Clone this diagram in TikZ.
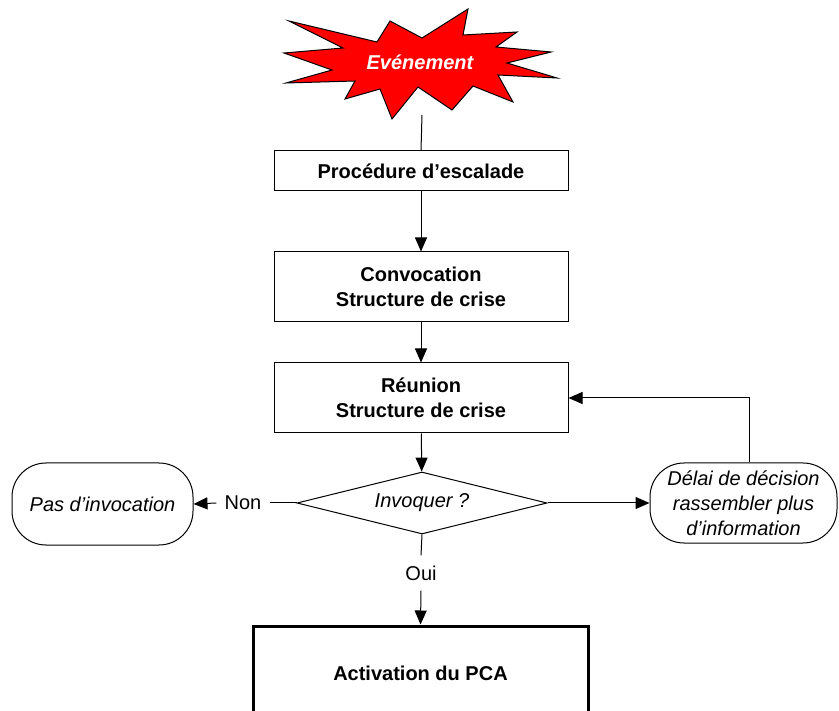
\documentclass[tikz,border=0pt]{standalone}
\usepackage{fontspec}
\setmainfont{Liberation Sans}
\usetikzlibrary{shapes.geometric,arrows.meta,calc}
\begin{document}
\begin{tikzpicture}[x=1pt,y=-1pt,
  every node/.style={font=\fontsize{20}{25}\selectfont, align=center},
  conn/.style={line width=1pt, draw=black},
  arr/.style={conn, -{Triangle[length=14pt,width=12pt]}},
  procbox/.style={draw, line width=1pt, rectangle, minimum width=294pt, inner sep=0pt, font=\fontsize{20}{25}\selectfont\bfseries},
  termbox/.style={draw, line width=1pt, rectangle, rounded corners=34pt, inner sep=0pt, font=\fontsize{20}{25}\selectfont\itshape},
  lbl/.style={inner sep=8pt}
]
\useasboundingbox (0,0) rectangle (839,711);
\clip (0,0) rectangle (839,711);
% star
\filldraw[fill=red, draw=black, line width=1pt, line join=miter]
 (289,21) -- (377,42) -- (390,21) -- (422,38) -- (468,9) -- (463,35) -- (517,32) -- (496,47)
 -- (551,52) -- (507,63) -- (557,78) -- (498,75) -- (513,102) -- (473,86) -- (452,110)
 -- (418,87) -- (392,119) -- (380,89) -- (345,99) -- (355,81) -- (286,83) -- (332,70)
 -- (284,53) -- (343,48) -- cycle;
\node[text=white, font=\fontsize{20}{25}\selectfont\bfseries\itshape] (ev) at (420,62) {Evénement};
\coordinate (evb) at (422,115);

\node[procbox, minimum height=40pt] (b1) at (421,171) {Procédure d’escalade};
\node[procbox, minimum height=70pt] (b2) at (421,287) {Convocation\\Structure de crise};
\node[procbox, minimum height=70pt] (b3) at (421,398) {Réunion\\Structure de crise};
\node[draw, line width=1pt, diamond, aspect=4, inner sep=0pt, minimum width=250pt, minimum height=62pt, font=\fontsize{20}{25}\selectfont\itshape] (d) at (422,503) {Invoquer ?};
\node[termbox, minimum width=181pt, minimum height=82pt] (pas) at (102.5,504) {Pas d’invocation};
\node[termbox, minimum width=187pt, minimum height=80pt] (del) at (743.5,503) {Délai de décision\\rassembler plus\\d’information};
\node[lbl] (non) at (243,503) {Non};
\node[lbl, inner sep=10pt] (oui) at (421,573) {Oui};
\node[draw, line width=3pt, rectangle, minimum width=335pt, minimum height=94pt, inner sep=0pt, font=\fontsize{20}{25}\selectfont\bfseries] (pca) at (420.5,673) {Activation du PCA};
\coordinate (fb) at (749,398);

\draw[conn] (evb) -- (b1.north);
\draw[arr] (b1) -- (b2);
\draw[arr] (b2) -- (b3);
\draw[arr] (b3) -- (d);
\draw[conn] (d.west) -- (non.east);
\draw[arr] (non.west) -- (pas.east);
\draw[arr] (d.east) -- (del.west);
\draw[arr] (del.north -| fb) -- (fb) -- (b3.east);
\draw[conn] (d.south) -- (oui.north);
\draw[arr] (oui.south) -- (pca.north);
\end{tikzpicture}
\end{document}
